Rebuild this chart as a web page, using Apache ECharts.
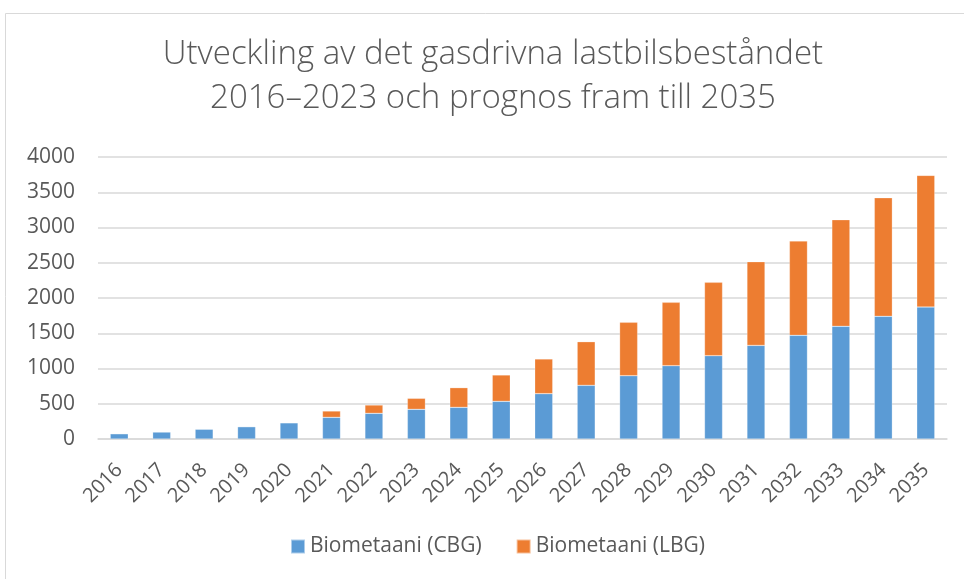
<!DOCTYPE html>
<html>
<head>
<meta charset="utf-8">
<script src="https://cdn.jsdelivr.net/npm/echarts@6/dist/echarts.min.js"></script>
<style>
  html, body { margin: 0; padding: 0; background: #fff; }
  #main { width: 964px; height: 579px; }
</style>
</head>
<body>
<div id="main"></div>
<script>
// år på x-axeln
const years = ["2016", "2017", "2018", "2019", "2020", "2021", "2022", "2023", "2024", "2025",
  "2026", "2027", "2028", "2029", "2030", "2031", "2032", "2033", "2034", "2035"];
// komprimerad biogas
const cbg = [75, 100, 140, 175, 230, 307, 364, 421, 449, 534,
  643, 761, 898, 1040, 1182, 1328, 1470, 1598, 1740, 1872];
// flytande biogas
const lbg = [0, 0, 0, 0, 0, 90, 118, 156, 279, 374,
  492, 619, 757, 898, 1040, 1187, 1338, 1512, 1682, 1867];
const yTicks = [0, 500, 1000, 1500, 2000, 2500, 3000, 3500, 4000];

const textColor = "#595959";
const font = "Open Sans";

let mychart = echarts.init(document.getElementById("main"));
let option = {
  animation: false,
  color: ["#5B9BD5", "#ED7D31"],
  title: {
    text: "Utveckling av det gasdrivna lastbilsbeståndet\n2016–2023 och prognos fram till 2035",
    left: 493,
    textAlign: "center",
    top: 33,
    padding: 0,
    textStyle: {
      fontFamily: font,
      fontWeight: 300,
      fontSize: 33,
      lineHeight: 44,
      color: textColor
    }
  },
  graphic: [
    {
      type: "rect",
      shape: { x: 5.5, y: 13.5, width: 1000, height: 700 },
      style: { fill: "none", stroke: "#d9d9d9", lineWidth: 1 },
      silent: true,
      z: -10
    }
  ],
  legend: {
    data: ["Biometaani (CBG)", "Biometaani (LBG)"],
    top: 536,
    left: 290,
    padding: 0,
    itemWidth: 14,
    itemHeight: 14,
    itemGap: 34,
    icon: "rect",
    textStyle: { fontFamily: font, fontSize: 21, color: textColor }
  },
  grid: {
    left: 98,
    right: 17,
    top: 157,
    bottom: 140,
    containLabel: false
  },
  xAxis: {
    type: "category",
    data: years,
    axisTick: { show: false },
    axisLine: { lineStyle: { color: "#d9d9d9", width: 1.5 } },
    axisLabel: {
      rotate: 45,
      interval: 0,
      margin: 28,
      fontFamily: font,
      fontSize: 20,
      color: textColor
    }
  },
  yAxis: {
    type: "value",
    min: yTicks[0],
    max: yTicks[yTicks.length - 1],
    interval: 500,
    axisLine: { show: false },
    axisTick: { show: false },
    splitLine: { lineStyle: { color: "#d9d9d9", width: 1.5 } },
    axisLabel: {
      margin: 23,
      fontFamily: font,
      fontSize: 21,
      color: textColor,
      formatter: v => String(v)
    }
  },
  series: [
    {
      name: "Biometaani (CBG)",
      type: "bar",
      stack: "total",
      barWidth: 18,
      data: cbg,
      itemStyle: { borderColor: "rgba(255,255,255,0.5)", borderWidth: 0.5 }
    },
    {
      name: "Biometaani (LBG)",
      type: "bar",
      stack: "total",
      barWidth: 18,
      data: lbg,
      itemStyle: { borderColor: "rgba(255,255,255,0.5)", borderWidth: 0.5 }
    }
  ]
};
mychart.setOption(option);
</script>
</body>
</html>
